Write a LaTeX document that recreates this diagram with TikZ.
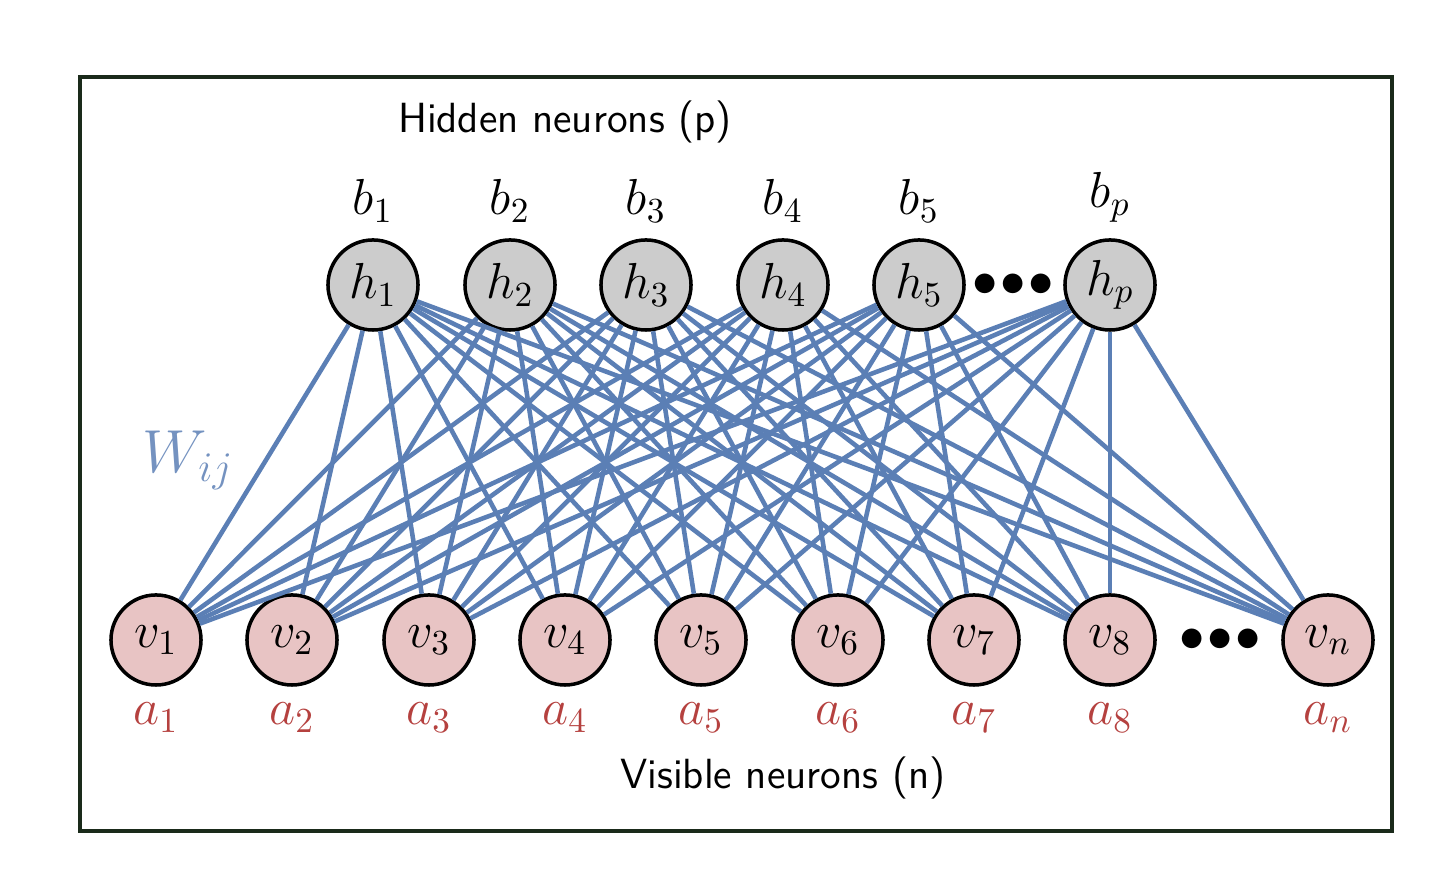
\documentclass[tikz,border=0pt]{standalone}
\usepackage{xcolor}
\usetikzlibrary{calc}
\definecolor{Cw}{HTML}{5B7FB5}
\definecolor{Ca}{HTML}{B5413F}
\definecolor{Ch}{HTML}{CCCCCC}
\definecolor{Cv}{HTML}{E8C4C4}
\definecolor{Cf}{HTML}{1A2A1A}
\begin{document}
\begin{tikzpicture}[x=0.01cm,y=-0.01cm]
\tikzstyle{hn}=[draw,shape=circle,line width=1pt,fill=Ch,minimum size=0.9cm,inner sep=0pt,font=\Large]
\tikzstyle{vn}=[draw,shape=circle,line width=1pt,fill=Cv,minimum size=0.9cm,inner sep=0pt,font=\Large]
\tikzstyle{wl}=[draw=Cw,line width=1.3pt]
\tikzstyle{dots}=[font=\Large]
\useasboundingbox (0,0) rectangle (1450,874);
\draw[Cf,line width=1.3pt] (80,77) rectangle (1392,831);
%
\node[hn](h1) at (373,285){$h_1$};
\node[hn](h2) at (510,285){$h_2$};
\node[hn](h3) at (646,285){$h_3$};
\node[hn](h4) at (783,285){$h_4$};
\node[hn](h5) at (919,285){$h_5$};
\node[hn](hp) at (1110,285){$h_p$};
\node[dots](hd) at (1013,285){$\bullet\!\bullet\!\bullet$};
%
\node[vn](v1) at (156,640){$v_1$};
\node[vn](v2) at (292,640){$v_2$};
\node[vn](v3) at (429,640){$v_3$};
\node[vn](v4) at (565,640){$v_4$};
\node[vn](v5) at (701,640){$v_5$};
\node[vn](v6) at (838,640){$v_6$};
\node[vn](v7) at (974,640){$v_7$};
\node[vn](v8) at (1110,640){$v_8$};
\node[vn](vn) at (1328,640){$v_n$};
\node[dots](vd) at (1220,640){$\bullet\!\bullet\!\bullet$};
%
\foreach \h in {h1,h2,h3,h4,h5,hp}
  \foreach \v in {v1,v2,v3,v4,v5,v6,v7,v8,vn}
    \draw[wl] (\h) -- (\v);
%
\foreach \h/\t in {h1/1,h2/2,h3/3,h4/4,h5/5,hp/p}
  \node[font=\Large,above=1pt] at (\h.north){$b_{\t}$};
\foreach \v/\t in {v1/1,v2/2,v3/3,v4/4,v5/5,v6/6,v7/7,v8/8,vn/n}
  \node[font=\Large,text=Ca,below=1pt] at (\v.south){$a_{\t}$};
%
\node[font=\LARGE,text=Cw!85](w) at (188,460){$W_{ij}$};
\node[font=\large\sffamily](ht) at (565,122){Hidden neurons (p)};
\node[font=\large\sffamily](vt) at (783,778){Visible neurons (n)};
\end{tikzpicture}
\end{document}
